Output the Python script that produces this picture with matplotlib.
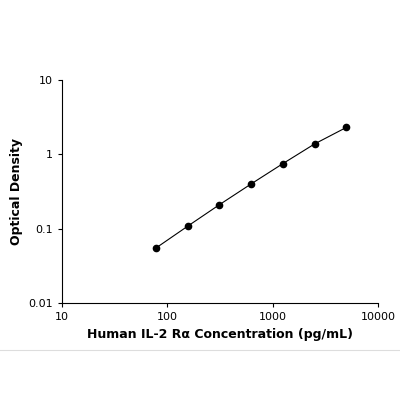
import matplotlib
matplotlib.use("Agg")
import matplotlib.pyplot as plt

conc = [78.1, 156, 312, 625, 1250, 2500, 5000]
od = [0.055, 0.108, 0.21, 0.40, 0.75, 1.38, 2.3]

fig = plt.figure(figsize=(4, 4), dpi=100)
ax = fig.add_axes([0.155, 0.2425, 0.79, 0.5575])
ax.plot(conc, od, color="black", lw=0.8, marker="o", ms=4.5)
ax.set_xscale("log"); ax.set_yscale("log")
ax.set_xlim(10, 10000); ax.set_ylim(0.01, 10)
ax.set_xticks([10, 100, 1000, 10000]); ax.set_xticklabels(["10", "100", "1000", "10000"])
ax.set_yticks([0.01, 0.1, 1, 10]); ax.set_yticklabels(["0.01", "0.1", "1", "10"])
ax.minorticks_off()
for s in ["top", "right"]:
    ax.spines[s].set_visible(False)
ax.tick_params(labelsize=8, length=3)
ax.set_xlabel("Human IL-2 Rα Concentration (pg/mL)", fontsize=9, fontweight="bold")
ax.set_ylabel("Optical Density", fontsize=9, fontweight="bold")
fig.add_artist(plt.Line2D([0, 1], [0.125, 0.125], color="#dddddd", lw=0.8))
fig.savefig("out.png")
